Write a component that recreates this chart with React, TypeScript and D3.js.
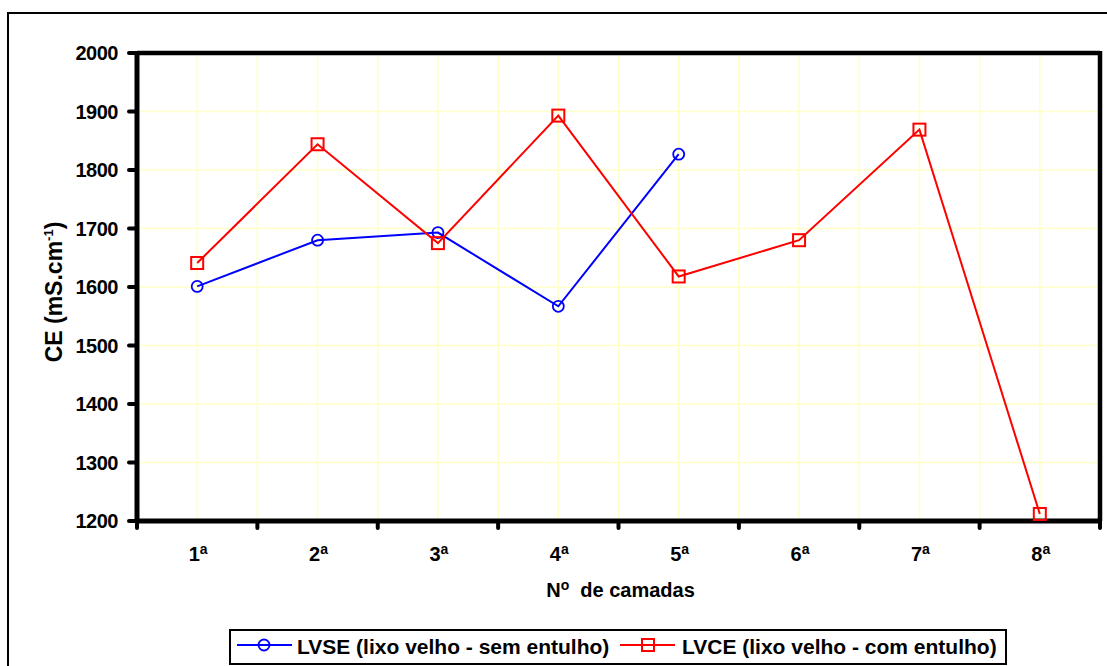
import React from "react";
import * as d3 from "d3";

// Layers (camadas) and electrical conductivity per series
const categories = ["1", "2", "3", "4", "5", "6", "7", "8"];
const lvseValues = [1601, 1680, 1693, 1567, 1827];
const lvceValues = [1641, 1844, 1675, 1893, 1618, 1680, 1869, 1212];
const yTicks = [1200, 1300, 1400, 1500, 1600, 1700, 1800, 1900, 2000];
const seriesNames = ["LVSE (lixo velho - sem entulho)", "LVCE (lixo velho - com entulho)"];

const W = 1107;
const H = 666;
const left = 137;
const right = 1100;
const top = 53;
const bottom = 521;
const FONT = "'Liberation Sans', Arial, sans-serif";

export default function App() {
  const x = d3.scaleBand<string>().domain(categories).range([left, right]).padding(0);
  const y = d3.scaleLinear().domain([1200, 2000]).range([bottom, top]);
  const bw = x.bandwidth();
  const cx = (c: string) => (x(c) as number) + bw / 2;

  const line = d3
    .line<[string, number]>()
    .x((d) => cx(d[0]))
    .y((d) => y(d[1]));

  const lvse: [string, number][] = lvseValues.map((v, i) => [categories[i], v]);
  const lvce: [string, number][] = lvceValues.map((v, i) => [categories[i], v]);

  // vertical grid at band edges and band centres
  const vGrid: number[] = [];
  categories.forEach((c) => {
    vGrid.push(x(c) as number);
    vGrid.push(cx(c));
  });
  const boundaries = [...categories.map((c) => x(c) as number), right];

  const sq = 12;

  return (
    <svg
      width={W}
      height={H}
      style={{ position: "absolute", left: 0, top: 0, background: "#fff" }}
      fontFamily={FONT}
    >
      <rect x={8} y={13} width={1200} height={800} fill="#fff" stroke="#000" strokeWidth={2} />

      {/* grid */}
      <g stroke="#ffffc8" strokeWidth={1.6}>
        {yTicks.slice(1, -1).map((t) => (
          <line key={"h" + t} x1={left} x2={right} y1={y(t)} y2={y(t)} />
        ))}
        {vGrid.slice(1).map((gx, i) => (
          <line key={"v" + i} x1={gx} x2={gx} y1={top} y2={bottom} />
        ))}
      </g>

      {/* frame of plot area */}
      <line x1={left} x2={right} y1={top} y2={top} stroke="#000" strokeWidth={4.5} />
      <line x1={right} x2={right} y1={top - 2} y2={bottom} stroke="#000" strokeWidth={4.5} />
      <line x1={left} x2={left} y1={top - 2} y2={bottom + 2} stroke="#000" strokeWidth={5} />
      <line x1={left - 2} x2={right + 2} y1={bottom} y2={bottom} stroke="#000" strokeWidth={5} />

      {/* y ticks */}
      {yTicks.map((t) => (
        <g key={"yt" + t}>
          <line x1={left - 8} x2={left} y1={y(t)} y2={y(t)} stroke="#000" strokeWidth={4} strokeLinecap="round" />
          <text x={left - 19} y={y(t)} dy="0.37em" textAnchor="end" fontSize={20} fontWeight="bold" letterSpacing={-0.5}>
            {t}
          </text>
        </g>
      ))}

      {/* x ticks */}
      {boundaries.map((b, i) => (
        <line key={"xt" + i} x1={b} x2={b} y1={bottom} y2={bottom + 7} stroke="#000" strokeWidth={4} strokeLinecap="round" />
      ))}
      {categories.map((c) => (
        <text key={"xl" + c} x={cx(c) + 1} y={561} textAnchor="middle" fontSize={20} fontWeight="bold">
          {c}
          <tspan fontSize={14} dy={-7}>
            a
          </tspan>
        </text>
      ))}

      {/* axis titles */}
      <text x={(left + right) / 2 + 2} y={597} textAnchor="middle" fontSize={20} fontWeight="bold">
        N
        <tspan fontSize={14} dy={-7}>
          o
        </tspan>
        <tspan dy={7}>{"\u00a0\u00a0de camadas"}</tspan>
      </text>
      <text
        transform={`translate(62, 292) rotate(-90)`}
        textAnchor="middle"
        fontSize={23}
        fontWeight="bold"
      >
        CE (mS.cm
        <tspan fontSize={13} dy={-9}>
          -1
        </tspan>
        <tspan dy={9}>)</tspan>
      </text>

      {/* series */}
      <path d={line(lvse) ?? ""} fill="none" stroke="#0000ff" strokeWidth={2} />
      <path d={line(lvce) ?? ""} fill="none" stroke="#ff0000" strokeWidth={2} />
      {lvse.map((d, i) => (
        <circle key={"c" + i} cx={cx(d[0])} cy={y(d[1])} r={5.5} fill="none" stroke="#0000ff" strokeWidth={1.8} />
      ))}
      {lvce.map((d, i) => (
        <rect
          key={"s" + i}
          x={cx(d[0]) - sq / 2}
          y={y(d[1]) - sq / 2}
          width={sq}
          height={sq}
          fill="none"
          stroke="#ff0000"
          strokeWidth={2}
        />
      ))}

      {/* legend */}
      <rect x={230} y={630} width={776} height={34} fill="#fff" stroke="#000" strokeWidth={2} />
      <line x1={237} x2={292} y1={645} y2={645} stroke="#0000ff" strokeWidth={2} />
      <circle cx={264} cy={645} r={5.5} fill="none" stroke="#0000ff" strokeWidth={1.8} />
      <text x={297} y={654} fontSize={21} fontWeight="bold">
        {seriesNames[0]}
      </text>
      <line x1={620} x2={675} y1={645} y2={645} stroke="#ff0000" strokeWidth={2} />
      <rect x={648 - sq / 2} y={645 - sq / 2} width={sq} height={sq} fill="none" stroke="#ff0000" strokeWidth={2} />
      <text x={682} y={654} fontSize={21} fontWeight="bold">
        {seriesNames[1]}
      </text>
    </svg>
  );
}
